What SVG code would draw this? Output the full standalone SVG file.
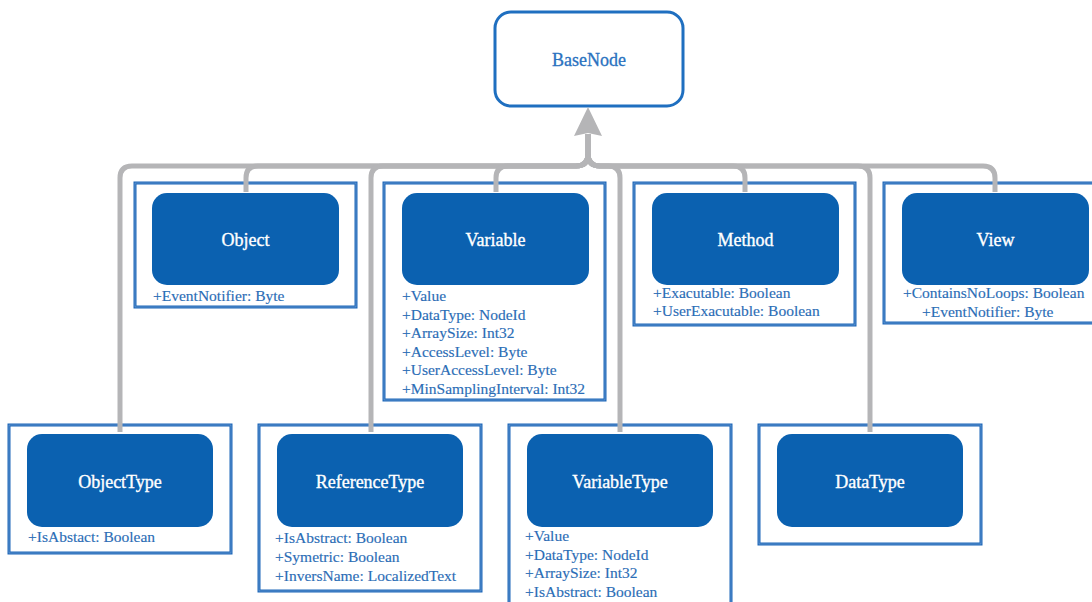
<svg xmlns="http://www.w3.org/2000/svg" width="1092" height="602" viewBox="0 0 1092 602">
  <style>
    .frame { fill: #ffffff; stroke: #1d67b9; stroke-width: 3; }
    .frame-gap { fill: none; stroke: #ffffff; stroke-width: 0.6; stroke-opacity: 0.45; }
    .head { fill: #0b61b0; }
    .title { font-family: "Liberation Serif", "Times New Roman", serif; font-size: 18px; fill: #ffffff; stroke: #ffffff; stroke-width: 0.35; text-anchor: middle; }
    .attr { font-family: "Liberation Serif", "Times New Roman", serif; font-size: 15.5px; fill: #2b6db6; stroke: #2b6db6; stroke-width: 0.15; }
    .root { fill: #ffffff; stroke: #1f6fc0; stroke-width: 3; }
    .root-title { font-family: "Liberation Serif", "Times New Roman", serif; font-size: 18px; fill: #2a72c0; stroke: #2a72c0; stroke-width: 0.3; text-anchor: middle; }
    .link { fill: none; stroke: #b5b5b7; stroke-width: 5; stroke-linejoin: round; }
    .arrow { fill: #b5b5b7; }
  </style>

  <rect width="1092" height="602" fill="#ffffff"/>

  <!-- root -->
  <g id="node-basenode">
    <rect class="root" x="495" y="12" width="188" height="94" rx="16"/>
    <text class="root-title" x="589" y="66">BaseNode</text>
  </g>

  <!-- upper row -->
  <g id="node-object">
    <rect class="frame" x="135" y="183" width="221" height="124"/>
    <rect class="frame-gap" x="135" y="183" width="221" height="124"/>
    <rect class="head" x="152" y="193" width="187" height="92" rx="15"/>
    <text class="title" x="245.5" y="246">Object</text>
    <text class="attr" x="153" y="301">+EventNotifier: Byte</text>
  </g>

  <g id="node-variable">
    <rect class="frame" x="384" y="183" width="221" height="217"/>
    <rect class="frame-gap" x="384" y="183" width="221" height="217"/>
    <rect class="head" x="402" y="193" width="187" height="92" rx="15"/>
    <text class="title" x="495.5" y="246">Variable</text>
    <text class="attr" x="402" y="301">+Value</text>
    <text class="attr" x="402" y="320">+DataType: NodeId</text>
    <text class="attr" x="402" y="338">+ArraySize: Int32</text>
    <text class="attr" x="402" y="357">+AccessLevel: Byte</text>
    <text class="attr" x="402" y="375">+UserAccessLevel: Byte</text>
    <text class="attr" x="402" y="394">+MinSamplingInterval: Int32</text>
  </g>

  <g id="node-method">
    <rect class="frame" x="634" y="183" width="221" height="142"/>
    <rect class="frame-gap" x="634" y="183" width="221" height="142"/>
    <rect class="head" x="652" y="193" width="187" height="92" rx="15"/>
    <text class="title" x="745.5" y="246">Method</text>
    <text class="attr" x="653" y="298">+Exacutable: Boolean</text>
    <text class="attr" x="653" y="316">+UserExacutable: Boolean</text>
  </g>

  <g id="node-view">
    <rect class="frame" x="884" y="183" width="221" height="140"/>
    <rect class="frame-gap" x="884" y="183" width="221" height="140"/>
    <rect class="head" x="902" y="193" width="187" height="92" rx="15"/>
    <text class="title" x="995.5" y="246">View</text>
    <text class="attr" x="903" y="298">+ContainsNoLoops: Boolean</text>
    <text class="attr" x="922" y="317">+EventNotifier: Byte</text>
  </g>

  <!-- lower row -->
  <g id="node-objecttype">
    <rect class="frame" x="9" y="425" width="222" height="128"/>
    <rect class="frame-gap" x="9" y="425" width="222" height="128"/>
    <rect class="head" x="27" y="434" width="186" height="93" rx="15"/>
    <text class="title" x="120" y="488">ObjectType</text>
    <text class="attr" x="28" y="542">+IsAbstact: Boolean</text>
  </g>

  <g id="node-referencetype">
    <rect class="frame" x="259" y="425" width="222" height="166"/>
    <rect class="frame-gap" x="259" y="425" width="222" height="166"/>
    <rect class="head" x="277" y="434" width="186" height="93" rx="15"/>
    <text class="title" x="370" y="488">ReferenceType</text>
    <text class="attr" x="275" y="543">+IsAbstract: Boolean</text>
    <text class="attr" x="275" y="562">+Symetric: Boolean</text>
    <text class="attr" x="275" y="581">+InversName: LocalizedText</text>
  </g>

  <g id="node-variabletype">
    <rect class="frame" x="509" y="425" width="222" height="200"/>
    <rect class="frame-gap" x="509" y="425" width="222" height="200"/>
    <rect class="head" x="527" y="434" width="186" height="93" rx="15"/>
    <text class="title" x="620" y="488">VariableType</text>
    <text class="attr" x="525" y="541">+Value</text>
    <text class="attr" x="525" y="560">+DataType: NodeId</text>
    <text class="attr" x="525" y="578">+ArraySize: Int32</text>
    <text class="attr" x="525" y="597">+IsAbstract: Boolean</text>
  </g>

  <g id="node-datatype">
    <rect class="frame" x="759" y="425" width="222" height="119"/>
    <rect class="frame-gap" x="759" y="425" width="222" height="119"/>
    <rect class="head" x="777" y="434" width="186" height="93" rx="15"/>
    <text class="title" x="870" y="488">DataType</text>
  </g>

  <!-- inheritance links, all merging into one trunk below BaseNode -->
  <g id="connectors">
    <path class="link" d="M120,432 V178 Q120,166 132,166 H576 Q588,166 588,154 V134"/>
    <path class="link" d="M246,192 V178 Q246,166 258,166 H576 Q588,166 588,154 V134"/>
    <path class="link" d="M371,432 V178 Q371,166 383,166 H576 Q588,166 588,154 V134"/>
    <path class="link" d="M496,192 V178 Q496,166 508,166 H576 Q588,166 588,154 V134"/>
    <path class="link" d="M620,432 V178 Q620,166 608,166 H600 Q588,166 588,154 V134"/>
    <path class="link" d="M745,192 V178 Q745,166 733,166 H600 Q588,166 588,154 V134"/>
    <path class="link" d="M870,432 V178 Q870,166 858,166 H600 Q588,166 588,154 V134"/>
    <path class="link" d="M995,192 V178 Q995,166 983,166 H600 Q588,166 588,154 V134"/>
    <polygon class="arrow" points="588,107 602,136 588,133 574,136"/>
  </g>
</svg>
